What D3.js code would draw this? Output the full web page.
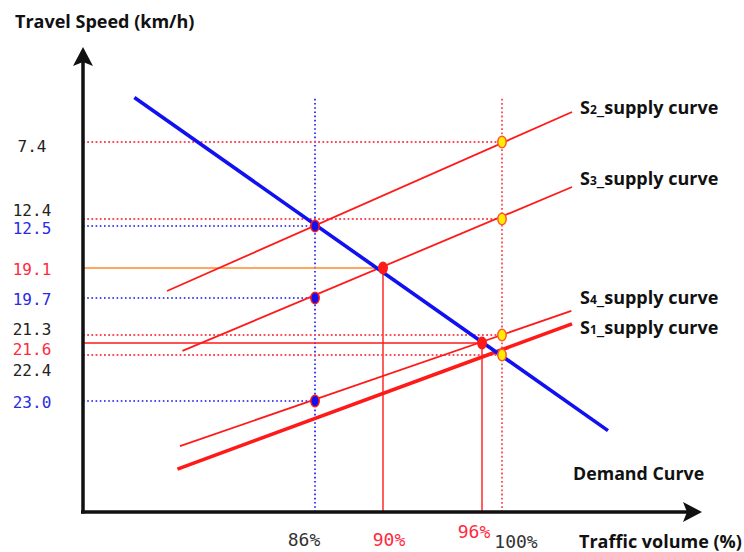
<!DOCTYPE html>
<html>
<head>
<meta charset="utf-8">
<script src="https://cdn.jsdelivr.net/npm/d3@7"></script>
<style>
  html, body { margin: 0; padding: 0; background: #fff; }
  svg { display: block; }
</style>
</head>
<body>
<svg></svg>
<script>
// values
const volumeTicks = [86, 90, 96, 100];
const speedTicks = [7.4, 12.4, 12.5, 19.1, 19.7, 21.3, 21.6, 22.4, 23.0];

// straight curves, [traffic %, speed] at each end
const demandCurve = [[75.1, 3.9], [107.95, 23.8]];
const supplyNames = ["S2", "S3", "S4", "S1"];
const supplyCurves = [
    [[77.07, 19.56], [105.25, 5.04]],
    [[78.0, 22.13], [105.25, 10.32]],
    [[77.85, 24.22], [105.2, 20.26]],
    [[77.7, 24.84], [105.25, 20.82]]
];

// marked points
const bluePoints = [[86, 12.5], [86, 19.7], [86, 23.0]];
const redPoints = [[90, 19.1], [96, 21.6]];
const yellowPoints = [[100, 7.4], [100, 12.4], [100, 21.3], [100, 22.4]];

// ---- layout ----
const width = 744;
const height = 552;

// the axes are schematic, so the scales are piecewise
const x = d3.scaleLinear()
    .domain([72, ...volumeTicks, 115])
    .range([83, 315, 383, 482, 502, 702]);

const y = d3.scaleLinear()
    .domain([0, ...speedTicks, 26])
    .range([48, 142, 219, 226, 268, 298, 335, 343, 355, 401, 512]);

const blue = "#1010f0";
const red = "#ff1a1a";
const lightRed = "#ff4a5a";
const orange = "#ff8a2a";

const speedNudge = [4, -9, 2, 1, 1, -6, 6, 15, 1];
const volumeNudge = [[-11, 28], [6, 28], [-8, 20], [14, 30]];
const supplyWidth = [1.8, 1.8, 1.8, 3.6];
const supplyLabelY = [114, 185, 304, 334];

const svg = d3.select("svg")
    .attr("width", width)
    .attr("height", height)
    .attr("viewBox", `0 0 ${width} ${height}`);

const line = d3.line().x(d => x(d[0])).y(d => y(d[1]));

const x0 = x.range()[0];
const yBottom = y.range()[y.range().length - 1];
const topGuide = y(4);

const guides = svg.append("g");

// vertical guides
guides.append("line")
    .attr("x1", x(86)).attr("x2", x(86))
    .attr("y1", topGuide).attr("y2", yBottom)
    .attr("stroke", blue).attr("stroke-width", 1.6)
    .attr("stroke-dasharray", "1.6,2.6");

guides.append("line")
    .attr("x1", x(100)).attr("x2", x(100))
    .attr("y1", topGuide).attr("y2", yBottom)
    .attr("stroke", lightRed).attr("stroke-width", 1.8)
    .attr("stroke-dasharray", "1.8,2.4");

guides.selectAll(".vred")
    .data(redPoints)
    .enter()
    .append("line")
    .attr("x1", d => x(d[0])).attr("x2", d => x(d[0]))
    .attr("y1", d => y(d[1])).attr("y2", yBottom)
    .attr("stroke", red).attr("stroke-width", 1.4);

// horizontal guides
guides.selectAll(".hblue")
    .data(bluePoints)
    .enter()
    .append("line")
    .attr("x1", x0).attr("x2", d => x(d[0]))
    .attr("y1", d => y(d[1])).attr("y2", d => y(d[1]))
    .attr("stroke", blue).attr("stroke-width", 1.6)
    .attr("stroke-dasharray", "1.6,2.6");

guides.selectAll(".hyellow")
    .data(yellowPoints)
    .enter()
    .append("line")
    .attr("x1", x0).attr("x2", d => x(d[0]))
    .attr("y1", d => y(d[1])).attr("y2", d => y(d[1]))
    .attr("stroke", lightRed).attr("stroke-width", 1.8)
    .attr("stroke-dasharray", "1.8,2.4");

guides.selectAll(".hred")
    .data(redPoints)
    .enter()
    .append("line")
    .attr("x1", x0).attr("x2", d => x(d[0]))
    .attr("y1", d => y(d[1])).attr("y2", d => y(d[1]))
    .attr("stroke", (d, i) => i === 0 ? orange : red)
    .attr("stroke-width", 1.6);

// supply curves
svg.append("g")
    .selectAll("path")
    .data(supplyCurves)
    .enter()
    .append("path")
    .attr("d", line)
    .attr("fill", "none")
    .attr("stroke", red)
    .attr("stroke-width", (d, i) => supplyWidth[i]);

// demand curve
svg.append("path")
    .attr("d", line(demandCurve))
    .attr("fill", "none")
    .attr("stroke", blue)
    .attr("stroke-width", 3.6);

// points
const dots = svg.append("g");
function drawDots(data, fill, stroke) {
    dots.selectAll(null)
        .data(data)
        .enter()
        .append("ellipse")
        .attr("cx", d => x(d[0]))
        .attr("cy", d => y(d[1]))
        .attr("rx", 4.2)
        .attr("ry", 5.8)
        .attr("fill", fill)
        .attr("stroke", stroke)
        .attr("stroke-width", 1.5);
}
drawDots(bluePoints, blue, red);
drawDots(redPoints, red, red);
drawDots(yellowPoints, "#ffee00", "#ff5a2a");

// axes
const axes = svg.append("g");
axes.append("line")
    .attr("x1", x0).attr("x2", x0)
    .attr("y1", yBottom + 1.5).attr("y2", 62)
    .attr("stroke", "#111").attr("stroke-width", 3.5);
axes.append("path")
    .attr("d", `M${x0},47 L${x0 + 10},66 L${x0},62 L${x0 - 10},66 Z`)
    .attr("fill", "#111");

const xEnd = x.range()[x.range().length - 1];
axes.append("line")
    .attr("x1", x0 - 2).attr("x2", xEnd - 15)
    .attr("y1", yBottom).attr("y2", yBottom)
    .attr("stroke", "#111").attr("stroke-width", 3.5);
axes.append("path")
    .attr("d", `M${xEnd},${yBottom} L${xEnd - 19},${yBottom - 10} L${xEnd - 15},${yBottom} L${xEnd - 19},${yBottom + 10} Z`)
    .attr("fill", "#111");

// tick labels
function speedColor(v) {
    if (bluePoints.some(p => p[1] === v)) return "#2a2ae8";
    if (redPoints.some(p => p[1] === v)) return "#ff2a40";
    return "#222";
}

svg.append("g")
    .selectAll("text")
    .data(speedTicks)
    .enter()
    .append("text")
    .attr("x", 32)
    .attr("y", (d, i) => y(d) + speedNudge[i])
    .attr("dy", "0.35em")
    .attr("text-anchor", "middle")
    .attr("font-family", "DejaVu Sans Mono, monospace")
    .attr("font-size", 16)
    .attr("fill", speedColor)
    .text(d => d.toFixed(1));

svg.append("g")
    .selectAll("text")
    .data(volumeTicks)
    .enter()
    .append("text")
    .attr("x", (d, i) => x(d) + volumeNudge[i][0])
    .attr("y", (d, i) => yBottom + volumeNudge[i][1])
    .attr("dy", "0.35em")
    .attr("text-anchor", "middle")
    .attr("font-family", "DejaVu Sans Mono, monospace")
    .attr("font-size", 18)
    .attr("fill", d => redPoints.some(p => p[0] === d) ? "#ff2a40" : "#333")
    .text(d => d + "%");

// curve labels
const labels = svg.append("g")
    .attr("font-family", "Open Sans, sans-serif")
    .attr("font-weight", "bold")
    .attr("fill", "#111");

supplyNames.forEach((name, i) => {
    const t = labels.append("text")
        .attr("x", 580)
        .attr("y", supplyLabelY[i])
        .attr("font-size", 18);
    t.append("tspan").text("S");
    t.append("tspan").attr("font-size", 12).text(name.slice(1));
    t.append("tspan").text("_supply curve");
});

labels.append("text")
    .attr("x", 573).attr("y", 480)
    .attr("font-size", 17.8)
    .text("Demand Curve");

labels.append("text")
    .attr("x", 15).attr("y", 28)
    .attr("font-size", 18)
    .text("Travel Speed (km/h)");

labels.append("text")
    .attr("x", 579).attr("y", 548)
    .attr("font-size", 18)
    .text("Traffic volume (%)");
</script>
</body>
</html>
